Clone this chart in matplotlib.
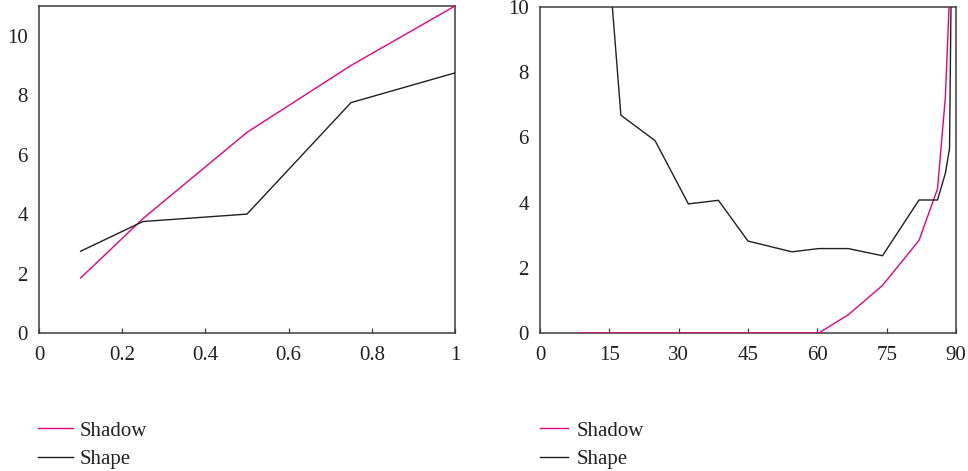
import matplotlib
matplotlib.use("Agg")
import matplotlib.pyplot as plt
from matplotlib.lines import Line2D

# ---- data ----
left_x = [0.1, 0.25, 0.5, 0.75, 1.0]
left_shadow = [1.85, 3.85, 6.75, 9.0, 11.0]
left_shape = [2.75, 3.75, 4.0, 7.75, 8.75]

right_x = [8.6, 17.5, 24.9, 32.1, 38.6, 45.0, 54.5, 60.3, 66.7, 74.1, 82.0, 86.0, 87.7, 88.6, 89.2]
right_shadow = [0.0, 0.0, 0.0, 0.0, 0.0, 0.0, 0.0, 0.0, 0.56, 1.46, 2.84, 4.42, 7.24, 10.35, 30.0]
right_shape = [22.7, 6.68, 5.9, 3.96, 4.07, 2.82, 2.49, 2.59, 2.59, 2.37, 4.08, 4.08, 4.9, 5.66, 14.0]

left_xticks = [0, 0.2, 0.4, 0.6, 0.8, 1.0]
left_xlabels = ["0", "0.2", "0.4", "0.6", "0.8", "1"]
left_yticks = [0, 2, 4, 6, 8, 10]
right_xticks = [0, 15, 30, 45, 60, 75, 90]
right_yticks = [0, 2, 4, 6, 8, 10]
series_names = ["Shadow", "Shape"]

PINK = "#e6007e"
BLACK = "#231f20"
SPINE = "#3c3c3c"
TEXT = "#231f20"
FS = 15

plt.rcParams['font.family'] = ['Liberation Serif', 'DejaVu Serif']

W, H = 968, 471
fig = plt.figure(figsize=(W / 100, H / 100), dpi=100)


def px_axes(l, r, t, b):
    return fig.add_axes([l / W, (H - b) / H, (r - l) / W, (b - t) / H])


def style(ax):
    for s in ax.spines.values():
        s.set_color(SPINE)
        s.set_linewidth(1.1)
    ax.tick_params(axis='x', direction='in', length=3.5, width=0.9, color=SPINE,
                   labelsize=FS, labelcolor=TEXT, pad=9)
    ax.tick_params(axis='y', length=0, labelsize=FS, labelcolor=TEXT, pad=8)


ax1 = px_axes(39, 455, 6, 333)
ax1.plot(left_x, left_shadow, color=PINK, lw=1.0, zorder=3)
ax1.plot(left_x, left_shape, color=BLACK, lw=1.0, zorder=3)
ax1.set_xlim(0, 1)
ax1.set_ylim(0, 11)
ax1.set_xticks(left_xticks)
ax1.set_xticklabels(left_xlabels)
ax1.set_yticks(left_yticks)
style(ax1)

ax2 = px_axes(540, 956, 7, 333)
ax2.plot(right_x, right_shadow, color=PINK, lw=1.0, zorder=3)
ax2.plot(right_x, right_shape, color=BLACK, lw=1.0, zorder=3)
ax2.set_xlim(0, 90)
ax2.set_ylim(0, 10)
ax2.set_xticks(right_xticks)
ax2.set_yticks(right_yticks)
style(ax2)

handles = [Line2D([], [], color=PINK, lw=1.0), Line2D([], [], color=BLACK, lw=1.0)]


def add_legend(x, y, hl, tp):
    leg = fig.legend(handles, series_names, loc='upper left',
                     bbox_to_anchor=(x / W, (H - y) / H), frameon=False,
                     borderpad=0, borderaxespad=0, fontsize=FS,
                     handlelength=hl, handletextpad=tp, labelspacing=0.42)
    for t in leg.get_texts():
        t.set_color(TEXT)
    return leg


add_legend(38, 421, 1.68, 0.33)
add_legend(540, 421, 1.35, 0.42)

fig.savefig("out.png", dpi=100)
